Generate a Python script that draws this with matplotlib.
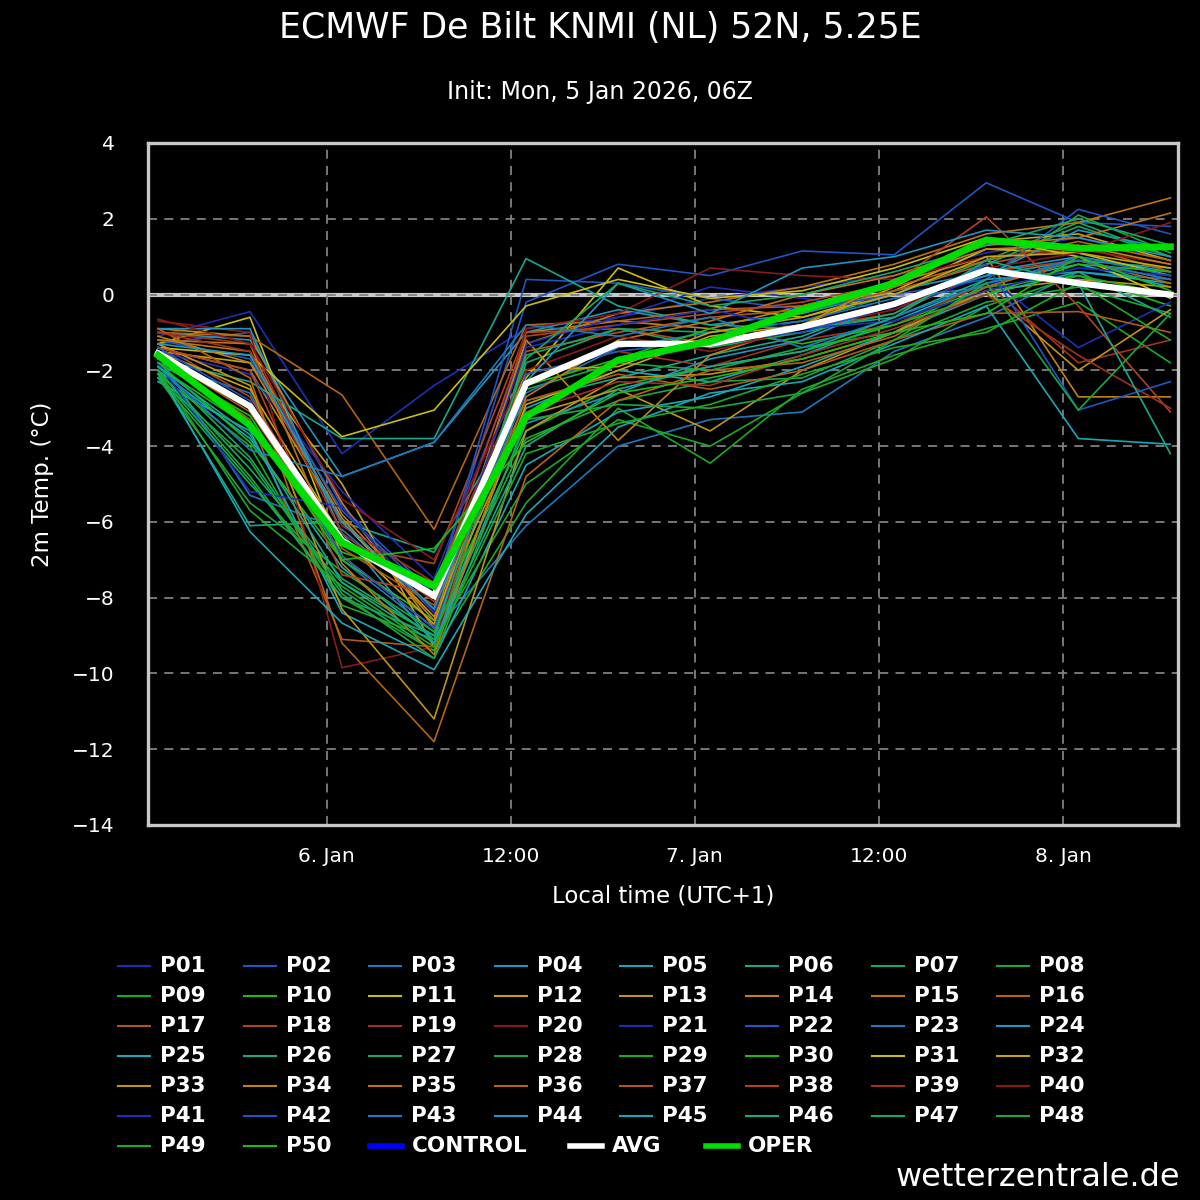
import matplotlib
matplotlib.use('Agg')
import matplotlib.pyplot as plt
from matplotlib.lines import Line2D

# forecast hours, local time, counted from 5 Jan 00:00
hours = [13, 19, 25, 31, 37, 43, 49, 55, 61, 67, 73, 79]

members = [
    [-1.1, -0.45, -4.2, -2.4, -0.9, -0.6, -0.1, 0.2, 0.5, 1.1, 1.5, 0.9],
    [-1.3, -1.0, -5.6, -7.9, -0.2, 0.8, 0.5, 1.15, 1.05, 2.95, 1.9, 1.8],
    [-1.8, -2.6, -7.0, -8.9, -6.1, -4.0, -3.3, -3.1, -1.5, -0.6, 0.6, 0.4],
    [-1.0, -1.2, -4.8, -3.9, -1.0, -0.4, -0.8, -0.5, 0.1, 0.6, 1.0, 0.6],
    [-2.0, -3.8, -7.2, -9.1, -3.0, -2.0, -2.3, -1.6, -0.7, 0.3, 0.8, 0.2],
    [-2.1, -6.1, -6.0, -6.8, -2.8, -2.2, -1.6, -1.1, -0.2, 0.5, 0.9, 0.7],
    [-1.9, -4.3, -7.8, -9.4, -1.8, -0.9, -1.0, -0.7, 0.0, 0.9, 1.9, 1.0],
    [-2.2, -5.0, -7.6, -9.0, -2.5, -1.8, -2.0, -1.4, -1.0, 0.4, 2.1, 1.1],
    [-2.0, -4.8, -8.0, -9.4, -5.5, -3.0, -4.45, -2.5, -1.6, -0.9, -0.2, -1.8],
    [-1.8, -3.9, -7.0, -8.6, -3.6, -2.4, -1.9, -1.5, -0.8, 0.2, 0.5, -0.3],
    [-1.3, -0.6, -6.9, -8.8, -2.2, 0.7, -0.3, -0.6, 0.1, 1.2, 1.1, 0.5],
    [-1.5, -1.8, -5.0, -9.3, -2.9, -2.0, -1.1, -0.8, 0.2, 1.4, 1.6, 0.9],
    [-1.4, -2.0, -6.0, -8.5, -3.2, -2.5, -3.6, -2.0, -1.0, 0.1, 0.4, 0.2],
    [-0.9, -1.1, -5.5, -8.8, -1.0, -0.7, -0.9, -0.3, 0.3, 1.0, -2.7, -2.7],
    [-1.2, -1.5, -5.8, -8.4, -1.3, -0.5, -0.2, 0.2, 0.8, 1.6, 1.9, 2.55],
    [-1.0, -1.1, -2.65, -6.2, -0.8, -0.7, -0.4, -0.3, 0.2, 0.9, 1.4, 0.9],
    [-1.6, -3.3, -9.1, -9.3, -1.5, -1.0, -0.6, -0.4, 0.1, 0.8, 1.3, 0.6],
    [-1.3, -2.7, -6.6, -7.1, -1.0, -0.9, -1.3, -0.9, -0.5, 0.6, 0.9, 0.4],
    [-1.0, -1.3, -6.1, -7.6, -2.1, -1.5, -1.9, -1.2, -0.8, 0.3, -1.8, -1.2],
    [-0.7, -1.0, -9.85, -9.3, -0.9, -0.5, 0.7, 0.5, 0.4, 1.0, 1.2, 0.8],
    [-1.5, -2.1, -5.2, -7.5, -1.3, -0.6, 0.2, -0.1, -0.4, 0.5, -1.4, -0.2],
    [-1.2, -1.7, -5.7, -8.0, 0.4, 0.3, -0.1, -0.4, 0.0, 0.4, 2.25, 1.6],
    [-1.6, -5.3, -6.2, -8.3, -2.6, -1.4, -1.0, -0.7, -0.1, 0.2, 1.0, 0.5],
    [-0.9, -0.9, -6.3, -9.2, -3.4, -2.6, -1.7, -1.2, -0.2, 0.5, 1.7, 1.2],
    [-2.3, -3.6, -8.4, -9.6, -4.5, -3.1, -2.7, -1.9, -1.0, 0.0, 0.6, 0.3],
    [-1.7, -2.3, -3.8, -3.8, 0.95, -0.3, -0.8, -0.9, -0.6, 0.4, 0.6, -0.6],
    [-2.0, -4.6, -7.5, -9.0, -1.6, -0.9, -1.4, -1.0, -0.5, 0.8, 1.8, 1.0],
    [-2.2, -5.5, -7.3, -8.9, -3.8, -2.8, -2.3, -2.2, -1.2, -0.2, 0.2, -0.5],
    [-2.1, -4.0, -8.2, -9.1, -5.0, -3.3, -4.0, -2.6, -1.7, -0.3, 0.5, 0.0],
    [-1.9, -3.5, -6.8, -7.6, -2.4, -1.7, -0.9, -1.3, -0.8, 0.0, 0.8, 0.6],
    [-1.4, -1.6, -3.75, -3.05, -0.3, 0.4, -0.1, 0.1, 0.7, 1.5, 1.0, -0.1],
    [-1.5, -2.5, -6.4, -8.7, -2.0, -1.9, -1.0, -0.6, 0.0, 1.0, 1.1, 0.7],
    [-1.3, -2.4, -8.3, -11.2, -3.6, -2.2, -2.1, -1.7, -1.0, 0.1, -2.0, -0.4],
    [-1.1, -1.8, -5.9, -8.6, -1.2, -3.85, -1.6, -0.8, 0.4, 1.2, 1.3, 0.8],
    [-1.2, -1.3, -7.1, -9.5, -2.7, -1.2, -0.7, 0.0, 0.5, 1.3, 1.5, 2.15],
    [-0.9, -2.2, -9.2, -11.8, -4.8, -2.8, -2.0, -1.8, -1.1, 0.2, 0.9, 0.3],
    [-1.6, -3.1, -6.7, -8.2, -2.8, -2.1, -2.5, -2.0, -1.2, -0.5, -0.45, -1.0],
    [-1.4, -2.0, -7.4, -7.9, -1.1, -0.8, -0.5, -0.2, 0.3, 2.05, -0.3, -3.1],
    [-1.0, -1.5, -6.3, -8.1, -3.1, -2.3, -2.4, -1.6, -0.9, 0.0, -1.6, -3.0],
    [-0.65, -1.3, -5.4, -7.0, -2.0, -1.1, -1.5, -0.9, -0.4, 0.7, 1.1, 1.9],
    [-1.8, -5.2, -5.6, -8.4, -1.4, -0.8, -0.4, -0.9, -0.7, 0.1, 0.7, 0.5],
    [-1.4, -2.8, -6.9, -8.8, -2.1, -1.5, -1.2, -1.0, -0.3, 0.8, -3.05, -2.3],
    [-1.9, -4.1, -4.8, -3.9, -0.8, -1.1, -0.6, -1.4, -0.6, 0.3, 0.9, 0.4],
    [-1.3, -1.6, -6.0, -8.3, -2.3, 0.3, -0.5, 0.7, 1.0, 1.7, 1.5, 1.0],
    [-2.0, -6.26, -8.67, -9.9, -5.8, -3.5, -2.6, -2.3, -1.3, -0.3, -3.8, -3.95],
    [-1.9, -3.7, -7.6, -9.2, -4.0, -2.5, -1.9, -1.5, -0.6, 0.9, 0.3, -4.2],
    [-2.1, -4.9, -8.0, -9.0, -1.7, 0.3, -0.3, 0.0, 0.6, 1.3, 2.0, 1.3],
    [-2.2, -4.4, -7.9, -9.6, -3.3, -2.9, -3.0, -2.6, -1.2, 0.3, -3.05, -0.5],
    [-2.0, -5.7, -7.7, -9.3, -4.2, -3.4, -2.9, -2.1, -1.4, -1.0, 0.3, -1.2],
    [-1.8, -3.2, -7.0, -6.7, -3.9, -2.6, -2.2, -1.7, -1.0, -0.5, 1.0, 0.1],
]
avg = [-1.55, -2.95, -6.5, -7.95, -2.35, -1.3, -1.3, -0.85, -0.25, 0.65, 0.3, 0.0]
oper = [-1.6, -3.45, -6.55, -7.7, -3.22, -1.73, -1.24, -0.4, 0.3, 1.44, 1.22, 1.26]

member_names = ['P%02d' % (i + 1) for i in range(50)]
palette = ['#1f2fb4', '#1f55c4', '#1f78bc', '#1e96c2', '#18a8b8',
           '#16a88c', '#17a864', '#1aa83e', '#1caa24', '#1cba16',
           '#c8be10', '#c8a210', '#c09416', '#c08414', '#c07410',
           '#b46412', '#b05818', '#b0441e', '#a03220', '#8a1a1a']

xticks = [24, 36, 48, 60, 72]
xticklabels = ['6. Jan', '12:00', '7. Jan', '12:00', '8. Jan']
yticks = list(range(-14, 5, 2))

fg = 'white'
fig = plt.figure(figsize=(12, 12), dpi=100, facecolor='black')
ax = fig.add_axes([148 / 1200, 1 - 825 / 1200, 1030 / 1200, 682 / 1200])
ax.set_facecolor('black')

for i, vals in enumerate(members):
    ax.plot(hours, vals, color=palette[i % 20], lw=1.2, zorder=2)
ax.plot(hours, avg, color='white', lw=4.5, zorder=3, solid_joinstyle='miter')
ax.plot(hours, oper, color='#00dd00', lw=5, zorder=4, solid_joinstyle='miter')

ax.axhline(0, color='#c8c8c8', lw=3, zorder=0.3)
ax.set_axisbelow(True)
ax.grid(True, color='#808080', ls=(0, (5, 4)), lw=1.3)

ax.set_xlim(12.35, 79.5)
ax.set_ylim(-14, 4)
ax.set_xticks(xticks)
ax.set_xticklabels(xticklabels)
ax.set_yticks(yticks)
ax.set_yticklabels([str(v).replace('-', '\u2212') for v in yticks])
ax.tick_params(colors=fg, labelsize=14.5, length=0)
ax.tick_params(axis='y', pad=24)
ax.tick_params(axis='x', pad=16)
for s in ax.spines.values():
    s.set_color('#c8c8c8')
    s.set_linewidth(2.4)

ax.set_ylabel('2m Temp. (\u00b0C)', color=fg, fontsize=16.5, labelpad=13)
ax.set_xlabel('Local time (UTC+1)', color=fg, fontsize=16.5, labelpad=13)

fig.text(0.5, 1 - 28 / 1200, 'ECMWF De Bilt KNMI (NL) 52N, 5.25E', color=fg,
         fontsize=25, ha='center', va='center')
fig.text(0.5, 1 - 92 / 1200, 'Init: Mon, 5 Jan 2026, 06Z', color=fg,
         fontsize=17, ha='center', va='center')
fig.text(1180 / 1200, 1 - 1178 / 1200, 'wetterzentrale.de', color=fg,
         fontsize=23, ha='right', va='center')

# legend drawn by hand: 8 columns for members, extra runs flow on the last row
def legend_item(x0, y0, color, label, lw):
    yy = 1 - y0 / 1200
    fig.add_artist(Line2D([x0 / 1200, (x0 + 32) / 1200], [yy, yy], color=color,
                          lw=lw, transform=fig.transFigure))
    fig.text((x0 + 42) / 1200, yy, label, color=fg, fontsize=15.5,
             fontweight='bold', ha='left', va='center')

for i, name in enumerate(member_names):
    legend_item(118 + (i % 8) * 125.6, 966 + (i // 8) * 30, palette[i % 20], name, 1.5)
legend_item(370, 1146, '#0000ff', 'CONTROL', 4)
legend_item(570, 1146, 'white', 'AVG', 4)
legend_item(706, 1146, '#00dd00', 'OPER', 4)

fig.savefig('out.png', dpi=100, facecolor='black')
